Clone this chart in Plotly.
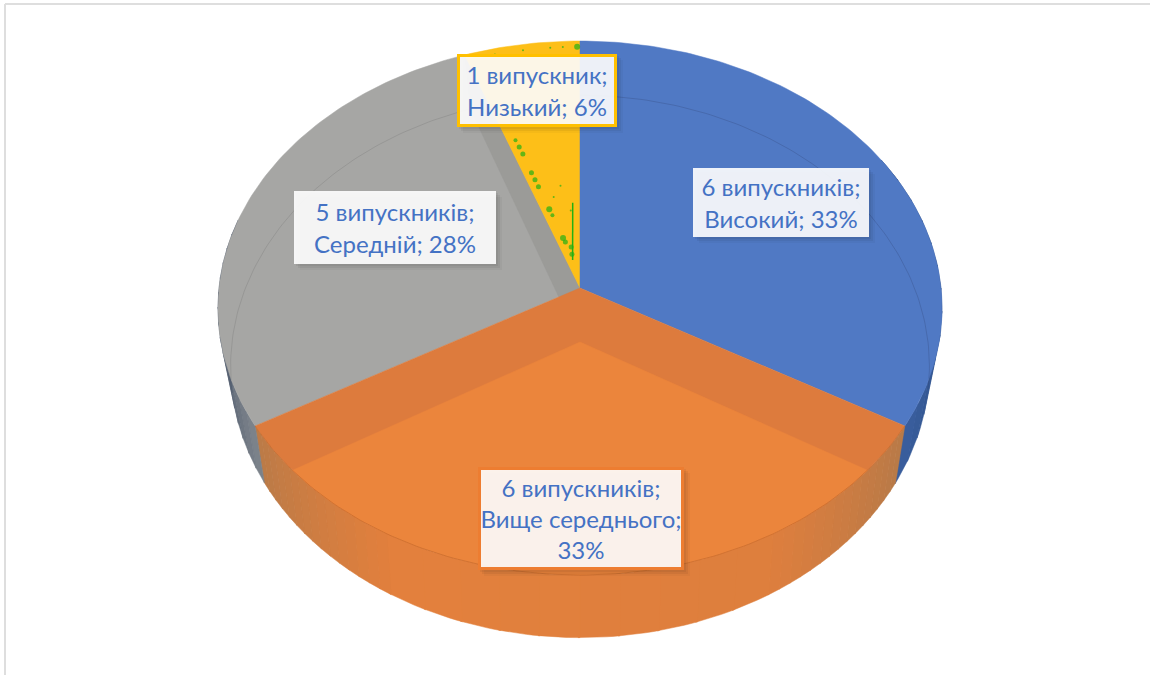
import math
import plotly.graph_objects as go

# --- data ---
categories = ["Високий", "Вище середнього", "Середній", "Низький"]
graduates = [6, 6, 5, 1]
nouns = ["випускників", "випускників", "випускників", "випускник"]
top_colors = ["#5079C4", "#DD7B3D", "#A6A6A4", "#FDBF18"]
label_breaks = [False, True, False, False]

# green artefacts on the yellow slice: angle (deg, clockwise from top), radius (share of the disc)
speck_angle = [342.4, 342.6, 342.2, 343, 343.2, 342.8, 344, 344.4, 346, 346.8, 351, 350, 354.8, 350, 345, 359.5, 352, 357, 348, 355]
speck_radius = [0.58, 0.55, 0.61, 0.44, 0.41, 0.47, 0.316, 0.29, 0.197, 0.18, 0.158, 0.13, 0.975, 0.975, 0.975, 0.975, 0.40, 0.975, 0.36, 0.30]
speck_size = [5, 5, 4, 5, 5, 5, 6, 4, 6, 5, 5, 5, 2, 2, 2, 6, 2, 2, 2, 2]

# --- projection of the tilted disc ---
TOP = dict(a=361.0, b=265.5, k=0.075, cy=288.0)
BOT = dict(a=348.0, b=269.0, k=0.09, cy=342.0)
CX = 580.0


def proj(theta, face, r=1.0):
    t = math.radians(theta)
    X, Y = r * math.sin(t), r * math.cos(t)
    d = 1 + face["k"] * Y
    return CX + face["a"] * X / d, face["cy"] - face["b"] * Y / d


def arc(a0, a1, face, step=1.0):
    n = max(2, int(abs(a1 - a0) / step))
    return [proj(a0 + (a1 - a0) * i / n, face) for i in range(n + 1)]


def sector(a0, a1, face):
    return [proj(0, face, 0.0)] + arc(a0, a1, face) + [proj(0, face, 0.0)]


def clip(subject, window):
    area = sum(window[i][0] * window[(i + 1) % len(window)][1] - window[(i + 1) % len(window)][0] * window[i][1]
               for i in range(len(window)))
    sign = 1 if area > 0 else -1
    out = subject
    for i in range(len(window)):
        A, B = window[i], window[(i + 1) % len(window)]
        side = lambda P: sign * ((B[0] - A[0]) * (P[1] - A[1]) - (B[1] - A[1]) * (P[0] - A[0]))
        res = []
        for j in range(len(out)):
            P, Q = out[j], out[(j + 1) % len(out)]
            sp, sq = side(P), side(Q)
            if sp >= 0:
                res.append(P)
            if sp * sq < 0:
                u = sp / (sp - sq)
                res.append((P[0] + u * (Q[0] - P[0]), P[1] + u * (Q[1] - P[1])))
        out = res
        if not out:
            break
    return out


def mix(c0, c1, u):
    a = [int(c0[i:i + 2], 16) for i in (1, 3, 5)]
    b = [int(c1[i:i + 2], 16) for i in (1, 3, 5)]
    return "rgb(%d,%d,%d)" % tuple(a[i] + (b[i] - a[i]) * u for i in range(3))


total = sum(graduates)
edges = [0.0]
for g in graduates:
    edges.append(edges[-1] + 360.0 * g / total)

fig = go.Figure()


def poly(points, color):
    xs = [p[0] for p in points] + [points[0][0]]
    ys = [p[1] for p in points] + [points[0][1]]
    fig.add_trace(go.Scatter(x=xs, y=ys, mode="lines", fill="toself", fillcolor=color,
                             line=dict(width=0.5, color=color), hoverinfo="skip", showlegend=False))


def wall(a0, a1, c0, c1, parts):
    for i in range(parts):
        s0 = a0 + (a1 - a0) * i / parts
        s1 = a0 + (a1 - a0) * (i + 1.05) / parts
        poly(arc(s0, s1, TOP) + arc(s1, s0, BOT), mix(c0, c1, (i + 0.5) / parts))


def thin(points, color, width=1):
    fig.add_trace(go.Scatter(x=[p[0] for p in points], y=[p[1] for p in points], mode="lines",
                             line=dict(width=width, color=color), hoverinfo="skip", showlegend=False))


# outer walls
wall(edges[0] + 60, edges[1], "#24426F", "#3A5F9E", 12)            # blue side
wall(edges[1], 150, "#B87A48", "#DE7F3E", 15)                       # orange side, right
wall(150, 210, "#DE7F3E", "#E4813D", 10)
wall(210, edges[2], "#E2803D", "#BB7B48", 15)                       # orange side, left
wall(edges[2], 285, "#7F858D", "#22324F", 14)                       # grey side

# top faces
poly(sector(edges[2], edges[3], TOP), top_colors[2])
# inner wall of the grey slice, next to the yellow one
poly([proj(edges[3], TOP, 0.0), proj(edges[3], TOP), proj(edges[3], BOT), proj(edges[3], BOT, 0.0)], "#9B9B98")
poly(sector(edges[3], edges[4], TOP), top_colors[3])
poly(sector(edges[0], edges[1], TOP), top_colors[0])
poly(sector(edges[1], edges[2], TOP), top_colors[1])

# bottom face of the orange slice, seen through the top one
ellipse_top = arc(0, 359, TOP)
poly(clip(sector(edges[1], edges[2], BOT)[:-1], ellipse_top), "#EB853C")
thin(arc(edges[1], edges[2], TOP), "rgba(190,100,40,0.55)")

# thin back arcs of the bottom face
thin(arc(edges[0], 100, BOT), "rgba(50,70,120,0.3)")
thin(arc(262, edges[3], BOT), "rgba(90,90,90,0.2)")

# green specks
specks = [proj(a, TOP, r) for a, r in zip(speck_angle, speck_radius)]
fig.add_trace(go.Scatter(x=[p[0] for p in specks], y=[p[1] for p in specks], mode="markers",
                         marker=dict(size=speck_size, color="#22B014", line=dict(width=0)),
                         hoverinfo="skip", showlegend=False))
thin([proj(356.4, TOP, 0.33), proj(349.0, TOP, 0.108)], "#22B014", 1.5)

# labels
boxes = [(781, 202.5, 176, 69, None), (581, 518.5, 206, 103, "#ED7D31"),
         (395, 227.5, 202, 73, None), (537, 90.5, 160, 73, "#FFC000")]
shapes = [
    dict(type="line", x0=5, x1=1150, y0=4, y1=4, line=dict(color="#DEDEDE", width=2), layer="below"),
    dict(type="line", x0=5, x1=5, y0=4, y1=675, line=dict(color="#DEDEDE", width=2), layer="below"),
]
annotations = []
for name, g, noun, brk, (bx, by, bw, bh, border) in zip(categories, graduates, nouns, label_breaks, boxes):
    pct = round(100 * g / total)
    text = f"{g} {noun};<br>{name};" + ("<br>" if brk else " ") + f"{pct}%"
    for off, alpha in [(6, 0.03), (4, 0.05), (2, 0.05)]:
        shapes.append(dict(type="rect", x0=bx - bw / 2 + off, x1=bx + bw / 2 + off, y0=by - bh / 2 + off,
                           y1=by + bh / 2 + off, fillcolor=f"rgba(0,0,0,{alpha})", line=dict(width=0), layer="above"))
    inset = 6 if border else 0
    annotations.append(dict(x=bx, y=by, xref="x", yref="y", text=text, showarrow=False,
                            width=bw - inset, height=bh - inset,
                            align="center", valign="middle", bgcolor="rgba(255,255,255,0.9)",
                            bordercolor=border or "rgba(255,255,255,0)", borderwidth=3 if border else 0,
                            borderpad=0, font=dict(family="Lato", size=24, color="#4472C4")))

fig.update_layout(
    width=1150, height=675, margin=dict(l=0, r=0, t=0, b=0), autosize=False,
    paper_bgcolor="white", plot_bgcolor="white", showlegend=False,
    xaxis=dict(range=[0, 1150], visible=False, fixedrange=True),
    yaxis=dict(range=[675, 0], visible=False, fixedrange=True),
    shapes=shapes, annotations=annotations,
)
fig.write_html("out.html", config={"displayModeBar": False},
               post_script="document.body.style.margin='0';document.body.style.overflow='hidden';")
